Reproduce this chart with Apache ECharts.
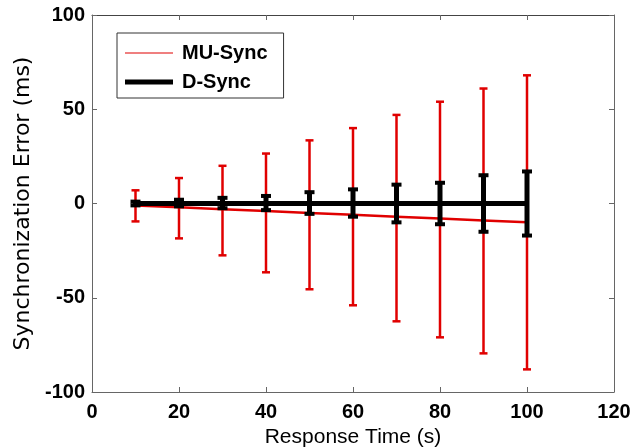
<!DOCTYPE html>
<html>
<head>
<meta charset="utf-8">
<script src="https://cdn.jsdelivr.net/npm/echarts@6/dist/echarts.min.js"></script>
<style>
  html, body { margin: 0; padding: 0; background: #fff; }
  #chart { width: 634px; height: 448px; }
</style>
</head>
<body>
<div id="chart"></div>
<script>
// response time (s)
const times = [10, 20, 30, 40, 50, 60, 70, 80, 90, 100];

// MU-Sync: mean error and error bar ends (ms)
const muMean = [-1, -2, -3, -4, -5, -6, -7, -8, -9, -10];
const muUpper = [7, 13.5, 20, 26.5, 33.5, 40, 47, 54, 61, 68];
const muLower = [-9.5, -18.5, -27.5, -36.5, -45.5, -54, -62.5, -71, -79.5, -88];

// D-Sync
const dMean = [0, 0, 0, 0, 0, 0, 0, 0, 0, 0];
const dUpper = [1, 2, 3, 4, 6, 7.5, 10, 11, 15, 17];
const dLower = [-1, -1.5, -2.5, -3.5, -5.5, -7, -10, -11, -15, -17];

const chart = echarts.init(document.getElementById('chart'));

// draws a vertical bar with caps at both ends
function errorBar(color, barWidth, capWidth, capHeight) {
  return function (params, api) {
    const x = api.value(0);
    const top = api.coord([x, api.value(1)]);
    const bot = api.coord([x, api.value(2)]);
    const half = capWidth / 2;
    return {
      type: 'group',
      children: [
        { type: 'line', shape: { x1: top[0], y1: top[1], x2: bot[0], y2: bot[1] },
          style: { stroke: color, lineWidth: barWidth } },
        { type: 'line', shape: { x1: top[0] - half, y1: top[1], x2: top[0] + half, y2: top[1] },
          style: { stroke: color, lineWidth: capHeight } },
        { type: 'line', shape: { x1: bot[0] - half, y1: bot[1], x2: bot[0] + half, y2: bot[1] },
          style: { stroke: color, lineWidth: capHeight } }
      ]
    };
  };
}

const axisColor = '#666';
const labelFont = { fontFamily: 'Liberation Sans', fontWeight: 'bold', fontSize: 20, color: '#000' };
const tick = { inside: true, length: 5, lineStyle: { color: axisColor } };

const option = {
  animation: false,
  backgroundColor: '#fff',
  grid: { left: 92, right: 20, top: 15, bottom: 56, outerBoundsMode: 'none', containLabel: false },
  legend: {
    orient: 'vertical',
    left: 117,
    top: 33,
    padding: [10, 16, 6, 8],
    itemGap: 9,
    itemWidth: 48,
    itemHeight: 14,
    borderColor: '#333',
    borderWidth: 1,
    backgroundColor: '#fff',
    textStyle: { fontFamily: 'Liberation Sans', fontWeight: 'bold', fontSize: 20, color: '#000', padding: [0, 0, 0, 4] },
    data: [
      { name: 'MU-Sync', icon: 'path://M0,0h48v1h-48z' },
      { name: 'D-Sync', icon: 'path://M0,0h48v5h-48z' }
    ]
  },
  xAxis: [
    {
      type: 'value', min: 0, max: 120, interval: 20,
      axisLine: { onZero: false, lineStyle: { color: axisColor, width: 1 } },
      axisTick: tick,
      axisLabel: Object.assign({ margin: 10 }, labelFont),
      splitLine: { show: false },
      name: 'Response Time (s)',
      nameLocation: 'middle',
      nameGap: 25,
      nameTextStyle: { fontFamily: 'Liberation Sans', fontSize: 21, color: '#000' }
    },
    {
      type: 'value', position: 'top', min: 0, max: 120, interval: 20,
      axisLine: { onZero: false, lineStyle: { color: '#444', width: 1 } },
      axisTick: tick,
      axisLabel: { show: false },
      splitLine: { show: false }
    }
  ],
  yAxis: [
    {
      type: 'value', min: -100, max: 100, interval: 50,
      axisLine: { show: true, onZero: false, lineStyle: { color: axisColor, width: 1 } },
      axisTick: Object.assign({ show: true }, tick),
      axisLabel: Object.assign({ margin: 7 }, labelFont),
      splitLine: { show: false },
      name: 'Synchronization Error (ms)',
      nameLocation: 'middle',
      nameGap: 58,
      nameTextStyle: { fontFamily: 'DejaVu Sans', fontSize: 22, color: '#000' }
    },
    {
      type: 'value', position: 'right', min: -100, max: 100, interval: 50,
      axisLine: { show: true, onZero: false, lineStyle: { color: axisColor, width: 1 } },
      axisTick: Object.assign({ show: true }, tick),
      axisLabel: { show: false },
      splitLine: { show: false }
    }
  ],
  series: [
    {
      name: 'MU-Sync bars',
      type: 'custom',
      z: 1,
      renderItem: errorBar('#e00000', 2.5, 8, 2.5),
      encode: { x: 0, y: [1, 2] },
      data: times.map((t, i) => [t, muUpper[i], muLower[i]])
    },
    {
      name: 'MU-Sync',
      type: 'line',
      z: 2,
      symbol: 'none',
      color: '#e00000',
      lineStyle: { color: '#e00000', width: 2.5 },
      data: times.map((t, i) => [t, muMean[i]])
    },
    {
      name: 'D-Sync',
      type: 'line',
      z: 3,
      symbol: 'none',
      color: '#000',
      lineStyle: { color: '#000', width: 5 },
      data: times.map((t, i) => [t, dMean[i]])
    },
    {
      name: 'D-Sync bars',
      type: 'custom',
      z: 4,
      renderItem: errorBar('#000', 5, 10, 4),
      encode: { x: 0, y: [1, 2] },
      data: times.map((t, i) => [t, dUpper[i], dLower[i]])
    }
  ]
};

chart.setOption(option);
</script>
</body>
</html>
